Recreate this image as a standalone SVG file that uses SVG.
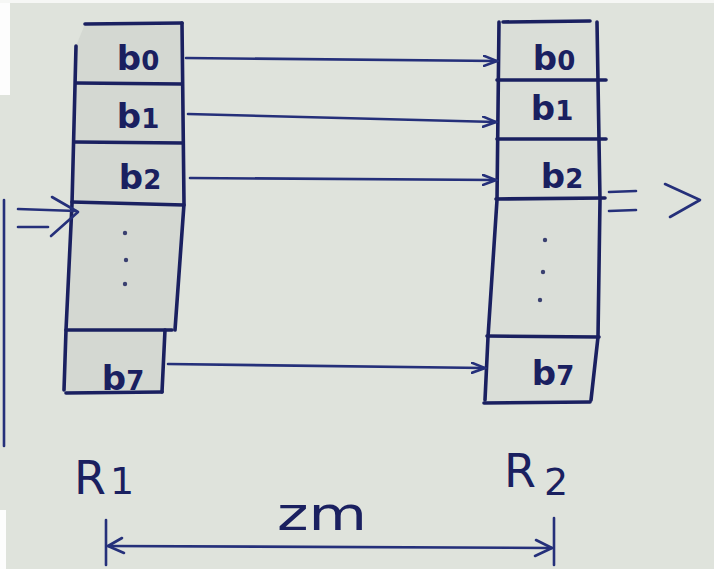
<svg xmlns="http://www.w3.org/2000/svg" width="714" height="569" viewBox="0 0 714 569">
<defs>
<style>
.ink{fill:none;stroke:#1a2060;stroke-width:3.6;stroke-linecap:round;stroke-linejoin:round}
.thin{fill:none;stroke:#25307a;stroke-width:2.6;stroke-linecap:round;stroke-linejoin:round}
.lbl{font-family:"DejaVu Sans","Liberation Sans",sans-serif;font-size:34px;font-weight:bold;fill:#1a2060;text-anchor:middle}
.big{font-family:"DejaVu Sans","Liberation Sans",sans-serif;font-size:46px;fill:#1a2060}
.dot{fill:#3a4070}
</style>
<marker id="ah" markerWidth="16" markerHeight="12" refX="14" refY="6" orient="auto" markerUnits="userSpaceOnUse">
<path d="M1,1 L14,6 L1,11" fill="none" stroke="#25307a" stroke-width="2.6" stroke-linecap="round"/>
</marker>
</defs>
<rect width="714" height="569" fill="#dfe3dc"/>
<rect x="0" y="0" width="10" height="95" fill="#fdfdfd"/>
<rect x="0" y="0" width="714" height="3" fill="#f6f7f5"/>
<rect x="0" y="510" width="6" height="59" fill="#fdfdfd"/>
<path d="M4,200 L4,446" class="thin"/>

<g id="R1">
<path d="M85,24 L182,23 L184,204 L174,330 L165,330 L162,392 L64,392 L76,46 Z" fill="#d4d8d2" stroke="none"/>
<path class="ink" d="M85,24 L182,23"/>
<path class="ink" d="M76,46 L72,204 L66,330 L64,390"/>
<path class="ink" d="M182,23 L184,204 L175,330"/>
<path class="ink" d="M165,330 L162,392"/>
<path class="ink" d="M76,83 L182,84"/>
<path class="ink" d="M75,142 L183,143"/>
<path class="ink" d="M72,202 L184,205"/>
<path class="ink" d="M66,330 L172,330"/>
<path class="ink" d="M66,393 L162,392"/>
<text class="lbl" x="138" y="70">b<tspan font-size="26">0</tspan></text>
<text class="lbl" x="138" y="128">b<tspan font-size="26">1</tspan></text>
<text class="lbl" x="140" y="189">b<tspan font-size="26">2</tspan></text>
<circle class="dot" cx="125" cy="233" r="2.2"/>
<circle class="dot" cx="126" cy="260" r="2.2"/>
<circle class="dot" cx="125" cy="284" r="2.2"/>
<text class="lbl" x="123" y="390">b<tspan font-size="26">7</tspan></text>
<text class="big" x="74" y="494">R<tspan font-size="38" dx="4">1</tspan></text>
</g>

<g id="R2">
<path d="M503,22 L597,21 L600,200 L598,337 L591,402 L485,402 L488,337 L497,200 L499,22 Z" fill="#dadeD8" stroke="none"/>
<path class="ink" d="M503,22 L590,21"/>
<path class="ink" d="M499,22 L497,200 L488,337 L485,400"/>
<path class="ink" d="M597,22 L600,200 L598,337 L591,400"/>
<path class="ink" d="M497,80 L606,80"/>
<path class="ink" d="M497,139 L606,139"/>
<path class="ink" d="M496,199 L605,198"/>
<path class="ink" d="M487,336 L599,337"/>
<path class="ink" d="M484,403 L590,402"/>
<text class="lbl" x="554" y="70">b<tspan font-size="26">0</tspan></text>
<text class="lbl" x="552" y="120">b<tspan font-size="26">1</tspan></text>
<text class="lbl" x="562" y="188">b<tspan font-size="26">2</tspan></text>
<circle class="dot" cx="545" cy="240" r="2.2"/>
<circle class="dot" cx="543" cy="272" r="2.2"/>
<circle class="dot" cx="540" cy="300" r="2.2"/>
<text class="lbl" x="553" y="385">b<tspan font-size="26">7</tspan></text>
<text class="big" x="504" y="487">R<tspan font-size="38" dx="8" dy="8">2</tspan></text>
</g>

<g id="connectors">
<path class="thin" d="M186,58 L497,61" marker-end="url(#ah)"/>
<path class="thin" d="M188,114 L496,122" marker-end="url(#ah)"/>
<path class="thin" d="M190,178 L496,180" marker-end="url(#ah)"/>
<path class="thin" d="M168,364 L485,368" marker-end="url(#ah)"/>
<path class="thin" d="M18,209 L76,211"/>
<path class="thin" d="M18,227 L48,227"/>
<path class="thin" d="M52,197 L78,212 L51,236"/>
<path class="thin" d="M609,192 L636,191"/>
<path class="thin" d="M609,211 L636,210"/>
<path class="thin" d="M665,184 L700,200 L670,217"/>
<path class="thin" d="M106,520 L106,565"/>
<path class="thin" d="M554,518 L554,565"/>
<path class="thin" d="M108,546 L552,548"/>
<path class="thin" d="M122,538 L108,546 L124,553"/>
<path class="thin" d="M536,540 L552,548 L535,556"/>
</g>
<text class="big" x="277" y="530" textLength="90" lengthAdjust="spacingAndGlyphs" font-size="46">zm</text>
</svg>
